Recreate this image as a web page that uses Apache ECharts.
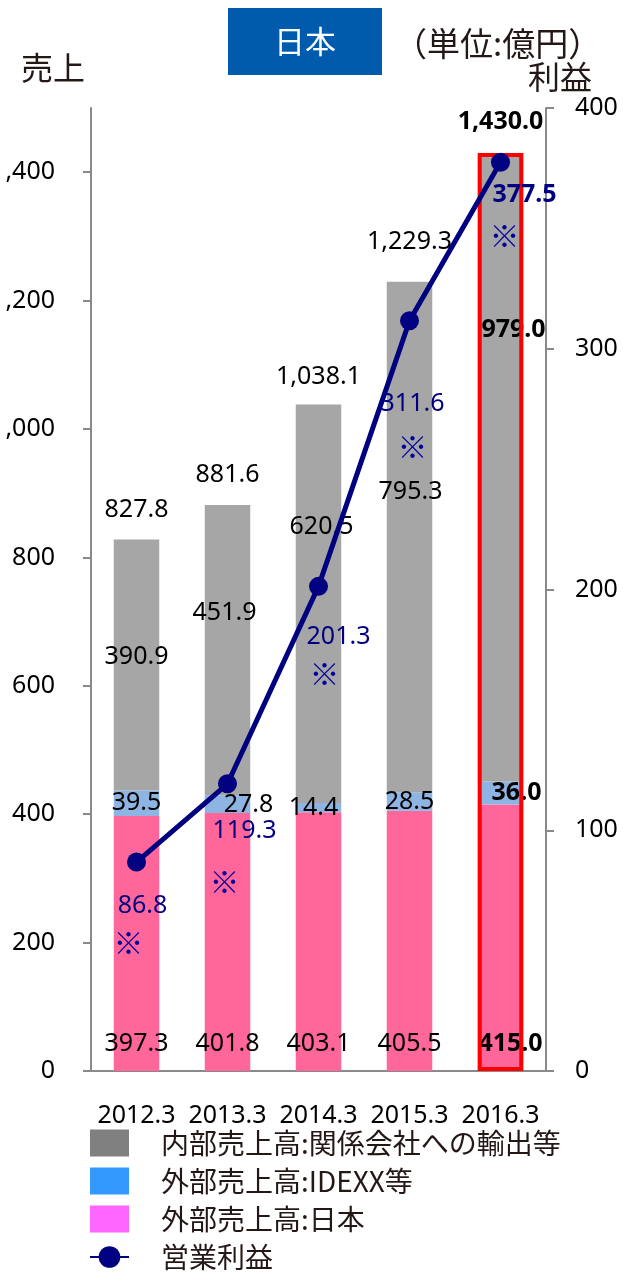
<!DOCTYPE html>
<html>
<head>
<meta charset="utf-8">
<script src="https://cdn.jsdelivr.net/npm/echarts@6/dist/echarts.min.js"></script>
<style>
  html, body { margin: 0; padding: 0; background: #fff; }
  #chart { width: 623px; height: 1272px; }
</style>
</head>
<body>
<div id="chart"></div>
<script>
const years = ['2012.3', '2013.3', '2014.3', '2015.3', '2016.3'];
const japanSales = [397.3, 401.8, 403.1, 405.5, 415.0];
const idexxSales = [39.5, 27.8, 14.4, 28.5, 36.0];
const internalSales = [390.9, 451.9, 620.5, 795.3, 979.0];
const totalSales = [827.8, 881.6, 1038.1, 1229.3, 1430.0];
const profit = [86.8, 119.3, 201.3, 311.6, 377.5];
const salesTicks = [0, 200, 400, 600, 800, 1000, 1200, 1400];
const highlightIndex = 4; // 2016.3 is boxed in red

// label nudges (px), hand placed like the original
const japanOffset = [[0, 0], [0, 0], [0, 0], [0, 0], [10, 0]];
const idexxOffset = [[0, 0], [21, 1], [-5, 0], [0, 0], [16, 0]];
const internalOffset = [[0, -8], [-3, -37], [3, -77], [1, -45], [13, -137]];
const totalOffset = [[0, -30], [0, -30], [0, -28], [0, -40], [0, -31]];
const profitOffset = [[6, 44], [17, 47], [20, 51], [3, 83], [24, 33]];
const markOffset = [[-8, 81], [-3, 98], [6, 87], [3, 126], [4, 73]];

const NUM_FONT = "'Noto Sans', 'Open Sans', sans-serif";
const JP_FONT = "'Noto Sans CJK JP', sans-serif";
const JP_COLOR = '#231815';

const fmt1 = v => v.toLocaleString('en-US', { minimumFractionDigits: 1, maximumFractionDigits: 1 });

function labelled(values, offsets) {
  return values.map((v, i) => ({
    value: v,
    label: { offset: offsets[i], fontWeight: i === highlightIndex ? 'bold' : 'normal' }
  }));
}

const numLabel = {
  show: true,
  color: '#000',
  fontSize: 25,
  fontFamily: NUM_FONT,
  textBorderWidth: 0,
  formatter: p => fmt1(p.value)
};

let myChart = echarts.init(document.getElementById('chart'));
let option = {
  animation: false,
  title: [
    {
      text: '日本', left: 228, top: 8, backgroundColor: '#005BAC', padding: [17, 46, 17, 46],
      textStyle: { color: '#fff', fontSize: 31, lineHeight: 33, fontWeight: 'normal', fontFamily: JP_FONT }
    },
    {
      text: '売上', left: 21, top: 51, padding: 0,
      textStyle: { color: JP_COLOR, fontSize: 32, lineHeight: 34, fontWeight: 'normal', fontFamily: JP_FONT }
    },
    {
      text: '（単位:億円）', left: 394, top: 26, padding: 0,
      textStyle: { color: JP_COLOR, fontSize: 33, lineHeight: 35, fontWeight: 'normal', fontFamily: JP_FONT }
    },
    {
      text: '利益', left: 528, top: 60, padding: 0,
      textStyle: { color: JP_COLOR, fontSize: 32, lineHeight: 34, fontWeight: 'normal', fontFamily: JP_FONT }
    }
  ],
  legend: {
    orient: 'vertical',
    left: 89,
    top: 1129,
    height: 150,
    padding: 0,
    itemWidth: 39,
    itemHeight: 27,
    itemGap: 10,
    selectedMode: false,
    textStyle: { color: JP_COLOR, fontSize: 28, lineHeight: 28, fontFamily: JP_FONT, padding: [0, 0, 0, 27] },
    data: [
      { name: '内部売上高:関係会社への輸出等', icon: 'rect', itemStyle: { color: '#808080' } },
      { name: '外部売上高:IDEXX等', icon: 'rect', itemStyle: { color: '#3399FF' } },
      { name: '外部売上高:日本', icon: 'rect', itemStyle: { color: '#FF66FF' } },
      { name: '営業利益' }
    ]
  },
  grid: { left: 91, right: 77, top: 108, bottom: 201, outerBoundsMode: 'none' },
  xAxis: {
    type: 'category',
    data: years,
    axisLine: { lineStyle: { color: '#898989', width: 2 } },
    axisTick: { length: 8, lineStyle: { color: '#898989', width: 2 } },
    axisLabel: { color: '#000', fontSize: 25, fontFamily: NUM_FONT, margin: 32, interval: 0, hideOverlap: false }
  },
  yAxis: [
    {
      type: 'value',
      min: 0,
      max: 1500,
      splitLine: { show: false },
      axisLine: { show: true, lineStyle: { color: '#898989', width: 2 } },
      axisTick: { show: true, length: 8, customValues: salesTicks, lineStyle: { color: '#898989', width: 2 } },
      axisLabel: {
        color: '#000', fontSize: 25, fontFamily: NUM_FONT, margin: 36,
        customValues: salesTicks,
        formatter: v => v.toLocaleString('en-US')
      }
    },
    {
      type: 'value',
      position: 'right',
      min: 0,
      max: 400,
      interval: 100,
      splitLine: { show: false },
      axisLine: { show: true, lineStyle: { color: '#898989', width: 2 } },
      axisTick: { show: true, length: 8, lineStyle: { color: '#898989', width: 2 } },
      axisLabel: { color: '#000', fontSize: 25, fontFamily: NUM_FONT, margin: 29 }
    }
  ],
  series: [
    {
      name: '外部売上高:日本',
      type: 'bar',
      stack: 'sales',
      barWidth: '50%',
      itemStyle: { color: '#FF6699' },
      label: Object.assign({}, numLabel, { position: 'insideBottom', distance: 15 }),
      data: labelled(japanSales, japanOffset)
    },
    {
      name: '外部売上高:IDEXX等',
      type: 'bar',
      stack: 'sales',
      barWidth: '50%',
      itemStyle: { color: '#8DB4E2' },
      label: Object.assign({}, numLabel, { position: 'inside' }),
      data: labelled(idexxSales, idexxOffset)
    },
    {
      name: '内部売上高:関係会社への輸出等',
      type: 'bar',
      stack: 'sales',
      barWidth: '50%',
      itemStyle: { color: '#A6A6A6' },
      label: Object.assign({}, numLabel, { position: 'inside' }),
      data: labelled(internalSales, internalOffset)
    },
    {
      name: 'highlight',
      type: 'bar',
      barWidth: '50%',
      barGap: '-100%',
      silent: true,
      z: 3,
      itemStyle: { color: 'rgba(0,0,0,0)', borderColor: '#FF0000', borderWidth: 4 },
      data: totalSales.map((v, i) => (i === highlightIndex ? v : '-'))
    },
    {
      name: 'total',
      type: 'scatter',
      symbolSize: 1,
      itemStyle: { color: 'rgba(0,0,0,0)', opacity: 1 },
      label: Object.assign({}, numLabel, { position: 'inside' }),
      z: 6,
      data: labelled(totalSales, totalOffset)
    },
    {
      name: '営業利益',
      type: 'line',
      yAxisIndex: 1,
      symbol: 'circle',
      symbolSize: 19,
      z: 5,
      lineStyle: { color: '#000080', width: 5 },
      itemStyle: { color: '#000080' },
      label: Object.assign({}, numLabel, { position: 'inside', color: '#000080' }),
      data: labelled(profit, profitOffset)
    },
    {
      name: 'note',
      type: 'scatter',
      yAxisIndex: 1,
      symbolSize: 1,
      itemStyle: { color: 'rgba(0,0,0,0)', opacity: 1 },
      z: 6,
      label: {
        show: true, position: 'inside', color: '#0000A0', fontSize: 30, fontFamily: JP_FONT,
        textBorderWidth: 0, formatter: '※'
      },
      data: profit.map((v, i) => ({ value: v, label: { offset: markOffset[i] } }))
    }
  ]
};
myChart.setOption(option);
</script>
</body>
</html>
